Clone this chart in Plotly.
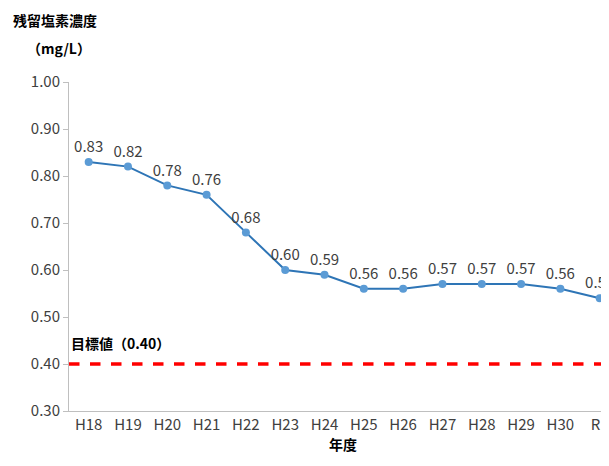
import plotly.graph_objects as go

years = ["H18", "H19", "H20", "H21", "H22", "H23", "H24", "H25", "H26", "H27", "H28", "H29", "H30", "R1"]
chlorine = [0.83, 0.82, 0.78, 0.76, 0.68, 0.60, 0.59, 0.56, 0.56, 0.57, 0.57, 0.57, 0.56, 0.54]
target = 0.40
y_ticks = [0.30, 0.40, 0.50, 0.60, 0.70, 0.80, 0.90, 1.00]

font = "Noto Sans CJK JP"

fig = go.Figure()
fig.add_trace(go.Scatter(
    x=years, y=chlorine, mode="lines+markers+text",
    line=dict(color="#2E75B6", width=2),
    marker=dict(color="#5B9BD5", size=8),
    text=[f"{v:.2f}" for v in chlorine], textposition="top center",
    textfont=dict(size=15, color="#404040", family=font),
    cliponaxis=False, showlegend=False,
))
fig.add_shape(type="line", xref="paper", x0=0, x1=1, yref="y", y0=target, y1=target,
              line=dict(color="#FF0000", width=3.5, dash="dash"))
fig.add_annotation(xref="paper", x=0, y=target + 0.045, yref="y", xanchor="left",
                   text="<b>目標値（0.40）</b>", showarrow=False,
                   font=dict(size=14, color="#000000", family=font))
fig.add_annotation(xref="paper", yref="paper", x=-0.105, y=1.225, xanchor="left",
                   text="<b>残留塩素濃度</b>", showarrow=False,
                   font=dict(size=14, color="#000000", family=font))
fig.add_annotation(xref="paper", yref="paper", x=-0.08, y=1.14, xanchor="left",
                   text="<b>（mg/L）</b>", showarrow=False,
                   font=dict(size=14, color="#000000", family=font))

fig.update_layout(
    width=609, height=466,
    margin=dict(l=61, r=0, t=74, b=63),
    plot_bgcolor="white", paper_bgcolor="white",
    font=dict(family=font, size=15, color="#404040"),
    xaxis=dict(range=[-0.5, 13.44], showline=True, linecolor="#BFBFBF",
               ticks="", showgrid=False, automargin=False,
               title=dict(text="<b>年度</b>", font=dict(size=14, color="#000000"), standoff=4)),
    yaxis=dict(range=[0.30, 1.00], tickvals=y_ticks, tickformat=".2f", automargin=False,
               showline=True, linecolor="#BFBFBF", ticks="outside", ticklen=5,
               tickcolor="#BFBFBF", showgrid=False, zeroline=False),
)

fig.write_html("out.html")
